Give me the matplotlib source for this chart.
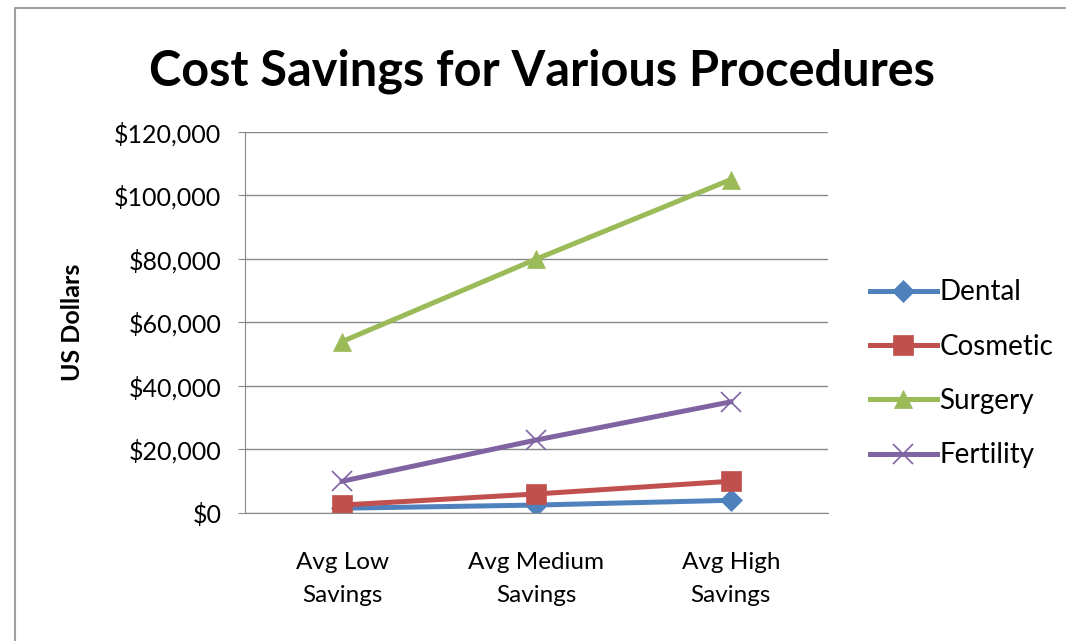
import matplotlib
matplotlib.use("Agg")
from matplotlib import pyplot as plt
from matplotlib.lines import Line2D
from matplotlib.ticker import FuncFormatter

plt.rcParams['font.family'] = ['Lato', 'DejaVu Sans']

categories = ["Avg Low\nSavings", "Avg Medium\nSavings", "Avg High\nSavings"]
dental = [1500, 2500, 4000]
cosmetic = [2500, 6000, 10000]
surgery = [54000, 80000, 105000]
fertility = [10000, 23000, 35000]

series = [
  ("Dental", dental, "#4F81BD", "D", 11),
  ("Cosmetic", cosmetic, "#C0504D", "s", 14),
  ("Surgery", surgery, "#9BBB59", "^", 13),
  ("Fertility", fertility, "#8064A2", "x", 14),
]

fig = plt.figure(figsize=(10.66, 6.41), dpi=100)
# outer chart frame, only the top and left edges fall inside the image
fx, fy = 15 / 1066, 1 - 8 / 641
fig.lines.append(Line2D([fx, fx, 1.0], [0.0, fy, fy], transform=fig.transFigure,
                        color="#a0a0a0", linewidth=1.5))

ax = fig.add_axes([0.2298, 0.1997, 0.5469, 0.5944])
x = range(len(categories))
for name, vals, color, marker, ms in series:
  ax.plot(x, vals, color=color, linewidth=3.6, marker=marker, markersize=ms,
          markeredgewidth=1.2 if marker == "x" else 0.5, markeredgecolor=color, label=name)

ax.set_xlim(-0.5, 2.5)
ax.set_ylim(0, 120000)
ax.set_yticks(range(0, 120001, 20000))
ax.yaxis.set_major_formatter(FuncFormatter(lambda v, p: "${:,.0f}".format(v)))
ax.set_xticks(list(x))
ax.set_xticklabels(categories, fontsize=17.5, linespacing=1.7)
ax.tick_params(axis="y", labelsize=18, length=5, color="#888888", pad=12)
ax.tick_params(axis="x", length=0, pad=28)
ax.grid(axis="y", color="#888888", linewidth=1)
ax.set_axisbelow(True)
for s in ("top", "right"):
  ax.spines[s].set_visible(False)
for s in ("left", "bottom"):
  ax.spines[s].set_color("#888888")
ax.set_ylabel("US Dollars", fontsize=18, fontweight="bold")
ax.yaxis.set_label_coords(-0.276, 0.5, transform=ax.transAxes)

fig.suptitle("Cost Savings for Various Procedures", fontsize=35, fontweight="bold", x=0.508, y=0.924)

ax.legend(loc="center left", bbox_to_anchor=(1.029, 0.365), frameon=False, fontsize=20,
          handlelength=2.4, handletextpad=0.1, labelspacing=1.02)

fig.savefig("out.png", dpi=100)
